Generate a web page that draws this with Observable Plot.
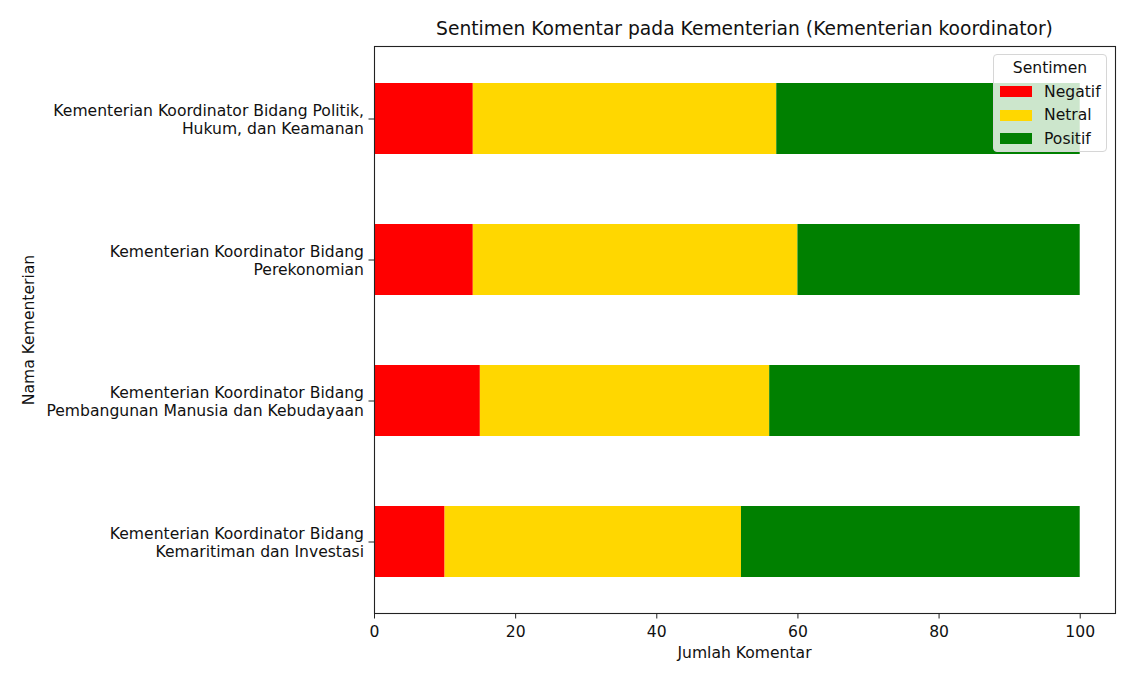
<!DOCTYPE html>
<html>
<head>
<meta charset="utf-8">
<script src="https://cdn.jsdelivr.net/npm/d3@7"></script>
<script src="https://cdn.jsdelivr.net/npm/@observablehq/plot@0.6"></script>
<style>
  body { margin: 0; background: #fff; font-family: "DejaVu Sans", sans-serif; }
  #wrap { position: relative; width: 1132px; height: 686px; overflow: hidden; }
  #chart { position: absolute; left: 0; top: 0; }
  .title { position: absolute; left: 374px; width: 741px; top: 18px; line-height: 22px; text-align: center; font-size: 18.7px; color: #111; white-space: nowrap; }
  .xlabel { position: absolute; left: 374px; width: 741px; top: 644px; line-height: 18px; text-align: center; font-size: 15.6px; color: #111; }
  .ylabel { position: absolute; left: 29px; top: 330px; transform: translate(-50%, -50%) rotate(-90deg); font-size: 15.6px; line-height: 18px; white-space: nowrap; color: #111; }
  .legend { position: absolute; left: 993px; top: 54px; width: 114px; height: 98px; background: rgba(255,255,255,0.8); border: 1px solid #d6d6d6; border-radius: 4px; box-sizing: border-box; font-size: 15.6px; color: #111; }
  .legend .lt { position: absolute; left: 0; width: 100%; top: 4px; text-align: center; line-height: 18px; }
  .legend .row { position: absolute; left: 6px; height: 18px; line-height: 18px; }
  .legend .sw { position: absolute; left: 0; top: 3.5px; width: 32px; height: 11px; }
  .legend .tx { position: absolute; left: 44px; top: 0; white-space: nowrap; }
</style>
</head>
<body>
<div id="wrap">
  <div id="chart"></div>
  <div class="title" id="title"></div>
  <div class="xlabel" id="xlabel"></div>
  <div class="ylabel" id="ylabel"></div>
  <div class="legend" id="legend"></div>
</div>
<script>
const categories = [
  "Kementerian Koordinator Bidang Politik, Hukum, dan Keamanan",
  "Kementerian Koordinator Bidang Perekonomian",
  "Kementerian Koordinator Bidang Pembangunan Manusia dan Kebudayaan",
  "Kementerian Koordinator Bidang Kemaritiman dan Investasi"
];
const sentiments = ["Negatif", "Netral", "Positif"];
const negatif = [14, 14, 15, 10];
const netral  = [43, 46, 41, 42];
const positif = [43, 40, 44, 48];
const colors = ["#ff0000", "#ffd700", "#008000"];
const xTicks = [0, 20, 40, 60, 80, 100];
const titleText = "Sentimen Komentar pada Kementerian (Kementerian koordinator)";
const xLabelText = "Jumlah Komentar";
const yLabelText = "Nama Kementerian";
const legendTitle = "Sentimen";

const series = [negatif, netral, positif];
const rows = [];
sentiments.forEach((s, si) => {
  categories.forEach((c, ci) => {
    rows.push({kementerian: c, sentimen: s, jumlah: series[si][ci]});
  });
});

function wrap(str, width = 40) {
  const words = str.split(" ");
  const lines = [];
  let cur = "";
  for (const w of words) {
    if (cur === "") cur = w;
    else if ((cur + " " + w).length <= width) cur += " " + w;
    else { lines.push(cur); cur = w; }
  }
  if (cur) lines.push(cur);
  return lines.join("\n");
}

const chart = Plot.plot({
  width: 1132,
  height: 686,
  marginLeft: 374,
  marginRight: 17,
  marginTop: 46,
  marginBottom: 73,
  style: {fontFamily: "DejaVu Sans", fontSize: "15.6px", color: "#111", background: "transparent"},
  x: {domain: [0, 105]},
  y: {domain: categories, paddingInner: 0.5, paddingOuter: 0.25, align: 0.5},
  color: {domain: sentiments, range: colors},
  marks: [
    Plot.barX(rows, {y: "kementerian", x: "jumlah", fill: "sentimen", order: sentiments}),
    Plot.frame({stroke: "#222", strokeWidth: 1.1}),
    Plot.axisX({ticks: xTicks, tickSize: 5.5, tickPadding: 7, label: null, stroke: "#222", fill: "#111"}),
    Plot.axisY({tickSize: 5.5, tickPadding: 5, label: null, tickFormat: d => wrap(d), lineHeight: 1.2, stroke: "#222", fill: "#111"})
  ]
});
document.getElementById("chart").appendChild(chart);

document.getElementById("title").textContent = titleText;
document.getElementById("xlabel").textContent = xLabelText;
document.getElementById("ylabel").textContent = yLabelText;

const lg = document.getElementById("legend");
const lt = document.createElement("div");
lt.className = "lt"; lt.textContent = legendTitle; lg.appendChild(lt);
sentiments.forEach((s, i) => {
  const r = document.createElement("div");
  r.className = "row";
  r.style.top = (27.5 + i * 23.5) + "px";
  const sw = document.createElement("div");
  sw.className = "sw"; sw.style.background = colors[i];
  const tx = document.createElement("div");
  tx.className = "tx"; tx.textContent = s;
  r.appendChild(sw); r.appendChild(tx);
  lg.appendChild(r);
});
</script>
</body>
</html>
